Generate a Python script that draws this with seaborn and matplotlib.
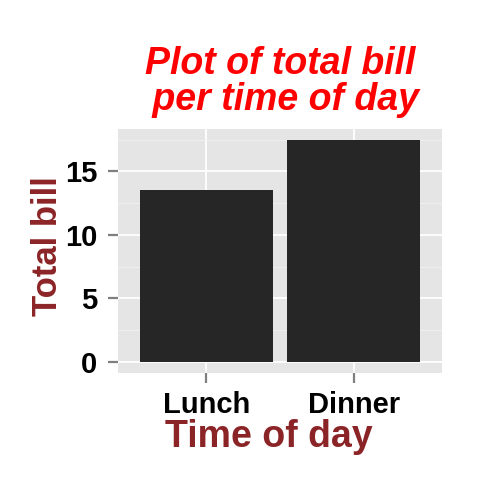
import matplotlib
matplotlib.use("Agg")
import matplotlib.pyplot as plt
from matplotlib.ticker import MultipleLocator
import seaborn as sns
import pandas as pd

# datos
times = ["Lunch", "Dinner"]
total_bill = [13.5, 17.45]

df = pd.DataFrame({"time": times, "total_bill": total_bill})

sns.set_style("white")
plt.rcParams["font.family"] = ["Liberation Sans", "DejaVu Sans"]

fig = plt.figure(figsize=(4.8, 4.8), dpi=100)
ax = fig.add_axes([0.246, 0.223, 0.675, 0.508])

sns.barplot(data=df, x="time", y="total_bill", order=times,
            color="#262626", saturation=1, width=0.9, ax=ax, zorder=3,
            edgecolor="none", linewidth=0)

ax.set_facecolor("#E5E5E5")
for s in ax.spines.values():
    s.set_visible(False)

ax.set_xlim(-0.6, 1.6)
ax.set_ylim(-0.87, 18.32)
ax.yaxis.set_major_locator(MultipleLocator(5))
ax.yaxis.set_minor_locator(MultipleLocator(2.5))
ax.grid(which="major", color="white", lw=1.3, zorder=0)
ax.grid(which="minor", axis="y", color="#F2F2F2", lw=0.6, zorder=0)
ax.set_axisbelow(True)

ax.tick_params(axis="both", which="major", bottom=True, left=True,
               length=7, width=1.6, color="#7F7F7F", labelsize=21,
               labelcolor="black")
ax.tick_params(axis="x", which="major", pad=6)
ax.tick_params(axis="y", which="major", pad=8)
ax.tick_params(axis="y", which="minor", length=0)
for lab in ax.get_xticklabels() + ax.get_yticklabels():
    lab.set_fontweight("bold")

ax.set_title("Plot of total bill\n per time of day", color="red",
             fontsize=27, fontweight="bold", fontstyle="italic",
             pad=14, linespacing=1.0)

ax.set_xlabel("Time of day", color="#8B2426", fontsize=27, fontweight="bold")
ax.set_ylabel("Total bill", color="#8B2426", fontsize=25, fontweight="bold")
ax.xaxis.set_label_coords(0.466, -0.19)
ax.yaxis.set_label_coords(-0.218, 0.52)
ax.yaxis.label.set_va("center")

fig.savefig("out.png", dpi=100)
